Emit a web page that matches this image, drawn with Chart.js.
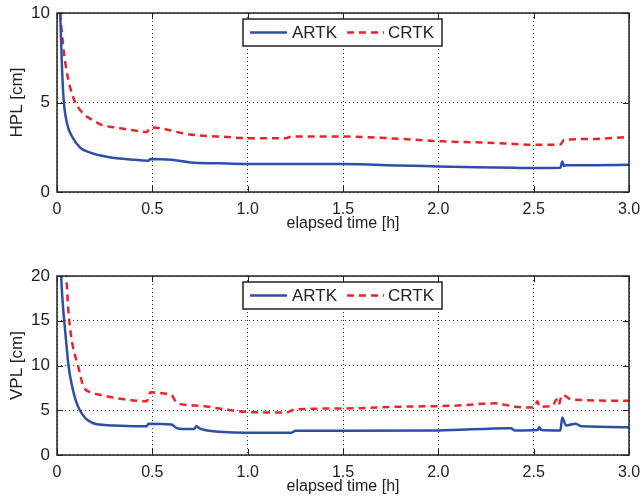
<!DOCTYPE html>
<html>
<head>
<meta charset="utf-8">
<script src="https://cdn.jsdelivr.net/npm/chart.js@4/dist/chart.umd.min.js"></script>
<style>
  body { margin: 0; background: #fff; }
  .box { position: absolute; left: 0; width: 644px; height: 250px; }
</style>
</head>
<body>
<div class="box" style="top:0px"><canvas id="hpl"></canvas></div>
<div class="box" style="top:263px"><canvas id="vpl"></canvas></div>
<script>
// elapsed time [h] / protection levels [cm]
const hplTime = [0.005, 0.017, 0.026, 0.035, 0.052, 0.079, 0.122, 0.175, 0.26, 0.4, 0.48, 0.49, 0.6, 0.7, 0.85, 1.0, 1.25, 1.5, 1.8, 2.0, 2.2, 2.4, 2.5, 2.64, 2.65, 2.66, 2.67, 2.8, 3.0];
const hplArtk = [14, 10, 7.0, 5.15, 3.86, 3.1, 2.47, 2.2, 1.97, 1.8, 1.75, 1.85, 1.8, 1.65, 1.6, 1.56, 1.56, 1.56, 1.48, 1.43, 1.38, 1.35, 1.34, 1.35, 1.7, 1.45, 1.5, 1.5, 1.52];

const hplTimeC = [0.005, 0.017, 0.026, 0.035, 0.05, 0.07, 0.096, 0.12, 0.158, 0.2, 0.23, 0.31, 0.4, 0.47, 0.49, 0.55, 0.65, 0.75, 0.85, 1.02, 1.2, 1.23, 1.5, 1.8, 2.02, 2.3, 2.5, 2.64, 2.66, 2.8, 3.0];
const hplCrtk = [14, 10, 8.9, 7.9, 6.8, 5.8, 5.0, 4.6, 4.2, 3.95, 3.76, 3.6, 3.45, 3.35, 3.6, 3.55, 3.3, 3.15, 3.1, 3.0, 3.0, 3.1, 3.1, 2.97, 2.83, 2.74, 2.64, 2.65, 2.92, 2.96, 3.07];

const vplTime = [0.01, 0.022, 0.03, 0.04, 0.05, 0.06, 0.08, 0.1, 0.12, 0.15, 0.19, 0.25, 0.3, 0.45, 0.47, 0.48, 0.6, 0.63, 0.7, 0.72, 0.73, 0.75, 0.8, 0.85, 1.0, 1.23, 1.25, 1.5, 2.0, 2.38, 2.4, 2.52, 2.53, 2.54, 2.64, 2.65, 2.67, 2.72, 2.75, 3.0];
const vplArtk = [30, 20, 17, 14.5, 12.2, 10, 7.6, 6.0, 5.0, 4.1, 3.55, 3.35, 3.3, 3.2, 3.2, 3.5, 3.4, 3.0, 2.9, 2.9, 3.2, 2.95, 2.7, 2.6, 2.5, 2.5, 2.7, 2.7, 2.75, 3.0, 2.75, 2.8, 3.1, 2.8, 2.75, 4.2, 3.3, 3.5, 3.2, 3.1];

const vplTimeC = [0.02, 0.049, 0.06, 0.08, 0.11, 0.14, 0.18, 0.23, 0.3, 0.4, 0.47, 0.49, 0.55, 0.6, 0.63, 0.75, 0.85, 1.0, 1.2, 1.25, 1.5, 1.8, 2.07, 2.3, 2.4, 2.5, 2.52, 2.53, 2.6, 2.62, 2.63, 2.65, 2.7, 3.0];
const vplCrtk = [30, 20, 16, 12.5, 10, 7.6, 7.0, 6.7, 6.4, 6.1, 6.0, 7.0, 6.9, 6.7, 5.8, 5.5, 5.2, 4.8, 4.75, 5.1, 5.2, 5.4, 5.5, 5.77, 5.4, 5.3, 6.0, 5.4, 5.5, 6.2, 5.6, 6.7, 6.2, 6.05];

const xTicks = [0, 0.5, 1.0, 1.5, 2.0, 2.5, 3.0];
const hplTicks = [0, 5, 10];
const vplTicks = [0, 5, 10, 15, 20];
const seriesNames = ['ARTK', 'CRTK'];

const blue = '#2E4FA7';
const red = '#EE2229';
const ink = '#222';
const font = 'Liberation Sans, Arial, Helvetica, sans-serif';

function pairs(xs, ys){
  return xs.map((x, i) => ({x: x, y: ys[i]}));
}

// matlab style frame: box on all sides + inward ticks
const framePlugin = {
  id: 'frame',
  afterDatasetsDraw(chart){
    const ctx = chart.ctx;
    const a = chart.chartArea;
    const xs = chart.scales.x, ys = chart.scales.y;
    ctx.save();
    ctx.strokeStyle = ink;
    ctx.lineWidth = 1;
    ctx.beginPath();
    xs.ticks.forEach(t => {
      const px = Math.round(xs.getPixelForValue(t.value)) + 0.5;
      ctx.moveTo(px, a.bottom); ctx.lineTo(px, a.bottom - 6);
      ctx.moveTo(px, a.top); ctx.lineTo(px, a.top + 6);
    });
    ys.ticks.forEach(t => {
      const py = Math.round(ys.getPixelForValue(t.value)) + 0.5;
      ctx.moveTo(a.left, py); ctx.lineTo(a.left + 6, py);
      ctx.moveTo(a.right, py); ctx.lineTo(a.right - 6, py);
    });
    ctx.stroke();
    ctx.lineWidth = 1.5;
    ctx.strokeRect(a.left, a.top, a.right - a.left, a.bottom - a.top);
    ctx.restore();
  }
};

// boxed legend at the top centre of the plot
const legendPlugin = {
  id: 'boxLegend',
  afterDraw(chart){
    const ctx = chart.ctx;
    const a = chart.chartArea;
    const left = 243, top = a.top + 6, w = 199, h = 27;
    ctx.save();
    ctx.fillStyle = '#fff';
    ctx.fillRect(left, top, w, h);
    ctx.strokeStyle = ink;
    ctx.lineWidth = 1.5;
    ctx.strokeRect(left, top, w, h);
    const midY = top + h / 2;
    const items = [
      {x: 250, tx: 292, ds: chart.data.datasets[0]},
      {x: 347, tx: 388, ds: chart.data.datasets[1]}
    ];
    ctx.font = '17px ' + font;
    ctx.textBaseline = 'middle';
    items.forEach(it => {
      ctx.beginPath();
      ctx.setLineDash(it.ds.borderDash || []);
      ctx.strokeStyle = it.ds.borderColor;
      ctx.lineWidth = 2.5;
      ctx.moveTo(it.x, midY);
      ctx.lineTo(it.x + 37, midY);
      ctx.stroke();
      ctx.setLineDash([]);
      ctx.fillStyle = ink;
      ctx.fillText(it.ds.label, it.tx, midY + 1);
    });
    ctx.restore();
  }
};

function makeChart(id, yTitle, yMax, yTicks, artk, crtk){
  return new Chart(document.getElementById(id), {
    type: 'line',
    data: {
      datasets: [
        {label: seriesNames[0], data: artk, borderColor: blue, borderWidth: 2.5, pointRadius: 0, cubicInterpolationMode: 'monotone'},
        {label: seriesNames[1], data: crtk, borderColor: red, borderWidth: 2.5, borderDash: [7, 5], pointRadius: 0, cubicInterpolationMode: 'monotone'}
      ]
    },
    options: {
      responsive: true,
      maintainAspectRatio: false,
      animation: false,
      layout: {padding: {top: 13, right: 15, left: 0, bottom: 0}},
      plugins: {legend: {display: false}, tooltip: {enabled: false}},
      scales: {
        x: {
          type: 'linear', min: 0, max: 3,
          afterBuildTicks: s => { s.ticks = xTicks.map(v => ({value: v})); },
          afterFit: s => { s.height = 58; s.paddingRight = 0; s.paddingLeft = 0; },
          ticks: {
            color: ink, padding: 8, maxRotation: 0,
            font: {family: font, size: 16},
            callback: v => v === 0 ? '0' : v.toFixed(1)
          },
          grid: {color: '#333', lineWidth: 1, drawTicks: false},
          border: {display: false, dash: [1, 3]},
          title: {display: true, text: 'elapsed time [h]', color: ink, padding: {top: 0, bottom: 17}, font: {family: font, size: 16}}
        },
        y: {
          min: 0, max: yMax,
          afterBuildTicks: s => { s.ticks = yTicks.map(v => ({value: v})); },
          afterFit: s => { s.width = 57; s.paddingTop = 0; s.paddingBottom = 0; },
          ticks: {color: ink, padding: 7, font: {family: font, size: 17}},
          grid: {color: '#333', lineWidth: 1, drawTicks: false},
          border: {display: false, dash: [1, 3]},
          title: {display: true, text: yTitle, color: ink, padding: {top: 7, bottom: 0}, font: {family: font, size: 17}}
        }
      }
    },
    plugins: [framePlugin, legendPlugin]
  });
}

makeChart('hpl', 'HPL [cm]', 10, hplTicks, pairs(hplTime, hplArtk), pairs(hplTimeC, hplCrtk));
makeChart('vpl', 'VPL [cm]', 20, vplTicks, pairs(vplTime, vplArtk), pairs(vplTimeC, vplCrtk));
</script>
</body>
</html>
